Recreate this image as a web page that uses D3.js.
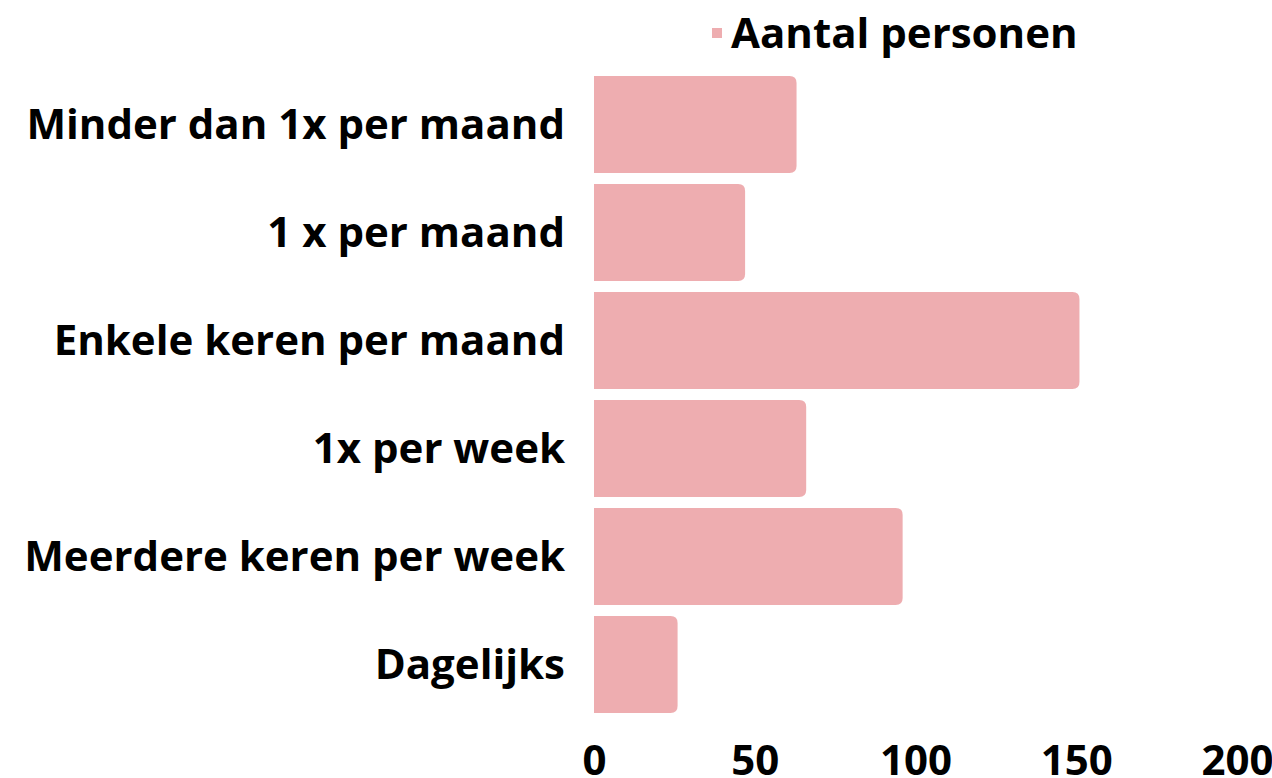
<!DOCTYPE html>
<html>
<head>
<meta charset="utf-8">
<script src="https://cdn.jsdelivr.net/npm/d3@7"></script>
<style>
  html, body { margin: 0; padding: 0; background: #fff; }
  svg { display: block; }
  text { font-family: "Open Sans", sans-serif; font-weight: 700; fill: #000; }
</style>
</head>
<body>
<svg id="chart" width="1272" height="778"></svg>
<script>
const categories = ["Minder dan 1x per maand", "1 x per maand", "Enkele keren per maand", "1x per week", "Meerdere keren per week", "Dagelijks"];
const values = [63, 47, 151, 66, 96, 26];
const seriesName = "Aantal personen";
const tickValues = [0, 50, 100, 150, 200];

const svg = d3.select("#chart");
const x = d3.scaleLinear().domain([0, 200]).range([594, 1237]);
const y = d3.scaleBand().domain(categories).range([70.5, 718.5]).paddingInner(0.1).paddingOuter(0.05);
const color = "#EEADB0";
const r = 7;

svg.append("g").selectAll("path").data(categories).join("path")
  .attr("fill", color)
  .attr("d", (c, i) => {
    const x0 = x(0), x1 = x(values[i]), y0 = y(c), h = y.bandwidth();
    return `M${x0},${y0}H${x1 - r}Q${x1},${y0} ${x1},${y0 + r}V${y0 + h - r}Q${x1},${y0 + h} ${x1 - r},${y0 + h}H${x0}Z`;
  });

const yAxis = svg.append("g").attr("transform", `translate(${x(0)},0)`)
  .call(d3.axisLeft(y).tickSize(0).tickPadding(29));
yAxis.select(".domain").remove();
yAxis.selectAll("text").style("font-size", "42px").attr("dy", "0.35em");

const xAxis = svg.append("g").attr("transform", `translate(0,775)`)
  .call(d3.axisBottom(x).tickValues(tickValues).tickSize(0).tickPadding(0));
xAxis.select(".domain").remove();
xAxis.selectAll("text").style("font-size", "42px").attr("dy", "0").attr("y", 0);

const legend = svg.append("g");
legend.append("rect").attr("x", 712).attr("y", 28).attr("width", 10).attr("height", 10).attr("fill", color);
legend.append("text").attr("x", 731).attr("y", 48).style("font-size", "42px").text(seriesName);
</script>
</body>
</html>
